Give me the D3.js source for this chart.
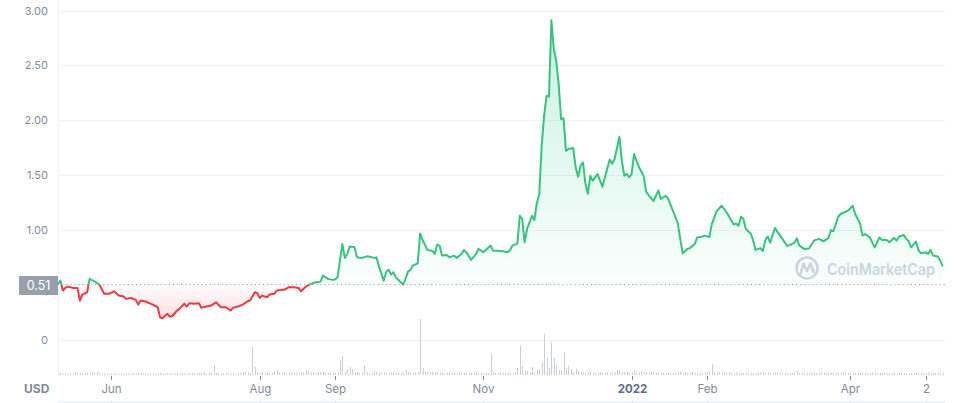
<!DOCTYPE html>
<html>
<head>
<meta charset="utf-8">
<script src="https://cdn.jsdelivr.net/npm/d3@7"></script>
<style>
  body { margin: 0; background: #fff; }
  svg { display: block; font-family: Inter, "Noto Sans", sans-serif; }
</style>
</head>
<body>
<div id="chart"></div>
<script>
// ---- data ----
var startDate = "2021-05-10";   // day 0
var refPrice = 0.51;            // price at start of period

// day offset from startDate, and the price (USD) on that day
var priceDays = [0,1,2,3,4,6,8,9,10,12,13,15,17,19,21,23,25,27,28,30,32,33,34,36,39,41,42,43,45,46,47,49,50,
  52,53,54,56,58,59,61,63,65,67,69,71,72,74,76,78,79,81,82,83,84,86,87,89,90,92,93,95,97,99,100,102,104,106,108,
  109,111,113,114,115,116,117,118,119,120,122,123,125,127,128,130,131,132,134,135,136,137,138,139,141,142,143,144,
  145,146,148,149,150,152,154,155,156,157,158,160,161,163,164,166,167,168,170,172,173,175,176,178,179,181,183,185,
  186,187,189,190,191,192,193,194,195,196,197,198,199,200,201,202,203,204,205,206,207,208,209,210,212,213,214,215,
  216,217,218,219,220,222,224,225,227,228,229,231,232,233,234,235,236,237,238,239,241,242,243,245,247,248,250,251,
  253,255,256,257,259,260,262,263,265,266,268,269,271,273,275,277,278,279,280,281,282,283,285,286,287,289,290,291,
  292,293,295,296,298,299,300,303,304,305,307,309,311,313,314,315,317,318,319,321,322,325,327,328,330,331,332,333,
  334,336,338,339,341,342,344,345,346,348,349,350,351,353,354,355,357,358,359,360,362,363,364];
var prices = [0.515,0.545,0.455,0.479,0.491,0.479,0.479,0.364,0.418,0.439,0.561,0.539,0.509,0.425,0.425,0.448,
  0.409,0.400,0.379,0.388,0.370,0.327,0.364,0.355,0.327,0.303,0.212,0.203,0.243,0.218,0.221,0.273,0.288,
  0.334,0.309,0.339,0.334,0.339,0.297,0.309,0.318,0.348,0.303,0.303,0.273,0.297,0.309,0.327,0.357,0.364,0.439,
  0.430,0.388,0.409,0.394,0.418,0.425,0.455,0.461,0.461,0.485,0.485,0.479,0.448,0.491,0.515,0.530,0.536,
  0.591,0.561,0.552,0.555,0.575,0.727,0.879,0.752,0.788,0.855,0.848,0.757,0.752,0.766,0.764,0.752,0.757,0.682,
  0.545,0.621,0.645,0.600,0.621,0.575,0.530,0.509,0.561,0.627,
  0.643,0.682,0.703,0.975,0.915,0.824,0.818,0.788,0.873,0.864,0.773,0.779,0.757,0.773,0.752,0.788,0.824,0.803,
  0.733,0.788,0.834,0.803,0.824,0.864,0.818,0.818,0.812,0.803,
  0.824,0.864,0.885,1.136,1.106,0.894,1.015,1.075,1.136,1.097,1.250,1.334,1.773,2.045,2.227,2.221,2.915,2.652,
  2.545,2.334,2.015,2.024,1.727,1.743,1.752,1.575,1.491,1.591,
  1.621,1.430,1.337,1.500,1.455,1.515,1.400,1.485,1.648,1.609,1.652,1.855,1.636,1.500,1.518,1.485,1.515,1.697,
  1.636,1.582,1.495,1.355,1.323,1.270,1.367,1.288,1.318,1.291,
  1.182,1.068,0.927,0.794,0.836,0.841,0.879,0.939,0.945,0.955,0.943,1.059,1.177,1.227,1.170,1.095,1.055,1.066,
  1.045,1.127,1.106,1.015,0.975,0.913,0.825,0.841,0.815,0.913,
  0.947,0.891,1.025,0.989,0.927,0.893,0.860,0.889,0.930,0.864,0.834,0.838,0.909,0.925,0.915,0.903,0.934,1.006,
  0.994,1.127,1.152,1.182,1.227,1.152,1.066,0.955,0.970,0.955,
  0.939,0.848,0.939,0.915,0.915,0.894,0.934,0.909,0.945,0.961,0.925,0.903,0.848,0.900,0.825,0.794,0.803,0.788,
  0.825,0.773,0.764,0.727,0.675];

// daily trading volume, one value per day from startDate (relative units)
var volumes = [
  1.5,2,1.5,2.5,1.5,1.5,2,3,2.5,1.5,2,2.5,2.5,2,3,2.5,3,2.5,1.5,1.5,
  1.5,1.5,1.5,1.5,2,1.5,1.5,1.5,1.5,1.5,1.5,1.5,1.5,2,2.5,1.5,1.5,1.5,1.5,1.5,
  1.5,1.5,2.5,2,1.5,1.5,2,1.5,1.5,2.5,1.5,2,1.5,1.5,1.5,2.5,1.5,2,2,2.5,
  2.5,1.5,3,2,10,2,2,1.5,1.5,2,2,1.5,1.5,1.5,2,2,2.5,3,2.5,2,
  28,8,3,2.5,3,2.5,2.5,2,2,3,5,2.5,2.5,3,2,2.5,3,2.5,2.5,2.5,
  3,2.5,5,3,2.5,3,2.5,3,2.5,3,2.5,2,3,2.5,2,3,15,19,3,6,
  8,6,3,3,2,2,10,3,2,2.5,5,3,2,2.5,2.5,2,3,2.5,3,2.5,
  2.5,2.5,2,5,3,3,2.5,2,3,56,7,3.5,3,2.5,3,2.5,3,2.5,2.5,2,
  2.5,3,2.5,2.5,2,2.5,2.5,2.5,2,2.5,2.5,2,2.5,2,2,2,2.5,2,21,3,
  2,2,2.5,2,2.5,2.5,2,2,3,7,30,9,4,4,3,8,3,5,6,13,
  41,18,7,33,17,10,5,5,23,7,9,6,3,6,4,3,2.5,2.5,3,3,
  2.5,2.5,2.5,3,2.5,2.5,3,2.5,2,2.5,5,5,3,2.5,3,2.5,2.5,5,2.5,2.5,
  4,2.5,2.5,3,3,3,2.5,3,2.5,2,1.5,2,2,2,2,3,3,2,3,2,
  2,3,2,2,2.5,2,3,2.5,4,11,2.5,2.5,3,2.5,2.5,2.5,3,2.5,2,2.5,
  2,2,2,2,2,2,2,2,2.5,2.5,2.5,2.5,2.5,2.5,2.5,2.5,3,2.5,2,2,
  2,2,2,2,4,2.5,2,2,2,2,2.5,2.5,2,2,2.5,2,2,2.5,2.5,2.5,
  2.5,2.5,2.5,2.5,2.5,2,2.5,2,2,2,2,2.5,2,2,2,2.5,2,2,2,2,
  2.5,2,2,2,2.5,2,2,2.5,2,2,2,2.5,2,2,2,2,2,2,2.5,2,
  2,2,2,2,2];

var yTicks = [0, 1, 1.5, 2, 2.5, 3];
var yTickLabels = ["0", "1.00", "1.50", "2.00", "2.50", "3.00"];
var xTickDates = ["2021-06-01", "2021-08-01", "2021-09-01", "2021-11-01", "2022-01-01", "2022-02-01", "2022-04-01", "2022-05-02"];
var xTickLabels = ["Jun", "Aug", "Sep", "Nov", "2022", "Feb", "Apr", "2"];

// ---- layout ----
var width = 959, height = 403;
var left = 58, right = 945;
var green = "#34c47e", red = "#ea3943";
var gridColor = "#eff2f5", textColor = "#808a9d";

var parse = d3.utcParse("%Y-%m-%d");
var t0 = parse(startDate);
var series = priceDays.map(function(d, i) {
  return { date: d3.utcDay.offset(t0, d), v: prices[i] };
});
var volData = volumes.map(function(v, i) {
  return { date: d3.utcDay.offset(t0, i), v: v };
});

var x = d3.scaleUtc()
  .domain([t0, d3.utcDay.offset(t0, volumes.length - 1)])
  .range([left, 942.7]);
var y = d3.scaleLinear().domain([0, 3]).range([340.5, 11]);
var yVol = d3.scaleLinear().domain([0, d3.max(volumes)]).range([375, 319]);
var yRef = y(refPrice);

var svg = d3.select("#chart").append("svg")
  .attr("width", width)
  .attr("height", height);

var defs = svg.append("defs");
var gGreen = defs.append("linearGradient")
  .attr("id", "fillGreen")
  .attr("gradientUnits", "userSpaceOnUse")
  .attr("x1", 0).attr("x2", 0)
  .attr("y1", y(3)).attr("y2", yRef);
gGreen.append("stop").attr("offset", 0).attr("stop-color", "#16c784").attr("stop-opacity", 0.24);
gGreen.append("stop").attr("offset", 1).attr("stop-color", "#16c784").attr("stop-opacity", 0.02);
var gRed = defs.append("linearGradient")
  .attr("id", "fillRed")
  .attr("gradientUnits", "userSpaceOnUse")
  .attr("x1", 0).attr("x2", 0)
  .attr("y1", yRef).attr("y2", y(0.2));
gRed.append("stop").attr("offset", 0).attr("stop-color", red).attr("stop-opacity", 0.02);
gRed.append("stop").attr("offset", 1).attr("stop-color", red).attr("stop-opacity", 0.16);

defs.append("clipPath").attr("id", "above")
  .append("rect").attr("x", 0).attr("y", 0).attr("width", width).attr("height", yRef);
defs.append("clipPath").attr("id", "below")
  .append("rect").attr("x", 0).attr("y", yRef).attr("width", width).attr("height", height - yRef);

// navigator strip at the very bottom
svg.append("rect")
  .attr("x", left).attr("y", 401)
  .attr("width", right - left).attr("height", 2)
  .style("fill", "#eef3fb");
xTickDates.forEach(function(d) {
  svg.append("line")
    .attr("x1", Math.round(x(parse(d))) + 0.5).attr("x2", Math.round(x(parse(d))) + 0.5)
    .attr("y1", 401).attr("y2", 403)
    .style("stroke", "#dbe2ee");
});

// left axis line
svg.append("line")
  .attr("x1", left + 0.5).attr("x2", left + 0.5)
  .attr("y1", 0).attr("y2", 376)
  .style("stroke", gridColor);

// y axis with gridlines
var yAxis = svg.append("g")
  .attr("transform", "translate(" + left + ",0)")
  .call(d3.axisLeft(y)
    .tickValues(yTicks)
    .tickFormat(function(d, i) { return yTickLabels[i]; })
    .tickSize(-(right - left))
    .tickPadding(10));
yAxis.select(".domain").remove();
yAxis.selectAll(".tick").attr("transform", function(d) {
  return "translate(0," + (Math.floor(y(d)) + 0.5) + ")";
});
yAxis.selectAll(".tick line").style("stroke", gridColor);
yAxis.selectAll(".tick text")
  .style("fill", textColor)
  .style("font-size", "11px")
  .style("font-family", "Inter, sans-serif");

// watermark
var wm = svg.append("g");
wm.append("circle")
  .attr("cx", 807).attr("cy", 268).attr("r", 10.5)
  .style("fill", "none").style("stroke", "#cfd6e4").style("stroke-width", 2.6);
wm.append("path")
  .attr("d", "M800.5,274 L803.5,263.5 L807,271 L810.5,263.5 L813.5,272")
  .style("fill", "none").style("stroke", "#cfd6e4").style("stroke-width", 2.6)
  .style("stroke-linejoin", "round").style("stroke-linecap", "round");
wm.append("text")
  .attr("x", 827).attr("y", 275)
  .attr("textLength", 108).attr("lengthAdjust", "spacingAndGlyphs")
  .style("font-size", "16px").style("font-weight", 600)
  .style("fill", "#cfd6e4")
  .text("CoinMarketCap");

// volume bars
svg.append("g").selectAll("rect")
  .data(volData)
  .enter().append("rect")
  .attr("x", function(d) { return Math.round(x(d.date)); })
  .attr("width", 1)
  .attr("y", function(d) { return yVol(d.v); })
  .attr("height", function(d) { return yVol(0) - yVol(d.v); })
  .style("fill", "#c9d0dd");

// price area and line, green above the reference price, red below
var area = d3.area()
  .x(function(d) { return x(d.date); })
  .y0(yRef)
  .y1(function(d) { return y(d.v); });
var line = d3.line()
  .x(function(d) { return x(d.date); })
  .y(function(d) { return y(d.v); });

svg.append("path").datum(series)
  .attr("d", area).attr("clip-path", "url(#above)")
  .style("fill", "url(#fillGreen)");
svg.append("path").datum(series)
  .attr("d", area).attr("clip-path", "url(#below)")
  .style("fill", "url(#fillRed)");

// dotted reference line
svg.append("line")
  .attr("x1", left).attr("x2", right)
  .attr("y1", Math.round(yRef) + 0.5).attr("y2", Math.round(yRef) + 0.5)
  .style("stroke", "#9aa1b3")
  .style("stroke-width", 1.2)
  .style("stroke-dasharray", "1.2,2.9");

svg.append("path").datum(series)
  .attr("d", line).attr("clip-path", "url(#above)")
  .style("fill", "none").style("stroke", green)
  .style("stroke-width", 2).style("stroke-linejoin", "round");
svg.append("path").datum(series)
  .attr("d", line).attr("clip-path", "url(#below)")
  .style("fill", "none").style("stroke", red)
  .style("stroke-width", 2).style("stroke-linejoin", "round");

// reference price label
svg.append("rect")
  .attr("x", 19).attr("y", 276)
  .attr("width", left - 19).attr("height", 19)
  .style("fill", "#989fab");
svg.append("text")
  .attr("x", 38.5).attr("y", 285.5)
  .attr("dy", "0.35em")
  .style("text-anchor", "middle")
  .style("font-size", "12.5px")
  .style("fill", "#fff")
  .text(refPrice.toFixed(2));

// x axis
var xAxis = svg.append("g")
  .attr("transform", "translate(0,376)")
  .call(d3.axisBottom(x)
    .tickValues(xTickDates.map(parse))
    .tickFormat(function(d, i) { return xTickLabels[i]; })
    .tickSize(4)
    .tickPadding(5));
xAxis.select(".domain").remove();
xAxis.selectAll(".tick").attr("transform", function(d) {
  return "translate(" + (Math.round(x(d)) + 0.5) + ",0)";
});
xAxis.selectAll(".tick line").style("stroke", "#7d889c");
xAxis.selectAll(".tick text")
  .style("fill", textColor)
  .style("font-size", "11.5px")
  .style("font-family", "Inter, sans-serif")
  .filter(function(d, i) { return xTickLabels[i] === "2022"; })
  .style("font-weight", "bold")
  .style("fill", "#616e85");

svg.append("text")
  .attr("x", 24).attr("y", 389)
  .attr("dy", "0.35em")
  .style("font-size", "12px")
  .style("font-weight", "bold")
  .style("fill", textColor)
  .text("USD");
</script>
</body>
</html>
